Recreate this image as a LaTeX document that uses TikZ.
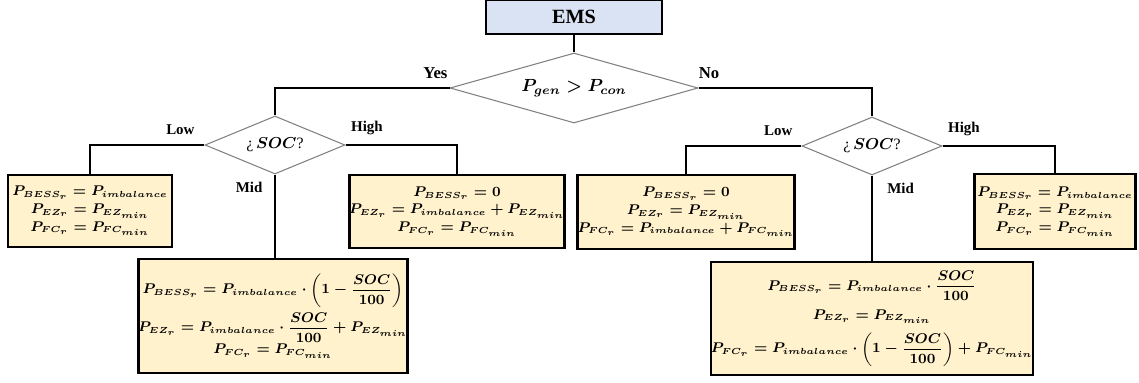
\documentclass[tikz,border=0pt]{standalone}
\usepackage{amsmath}
\usepackage{fontspec}
\setmainfont{Liberation Serif}
\usetikzlibrary{shapes.geometric,positioning}
\DeclareMathSizes{8}{8}{5}{4}

\definecolor{emsblue}{HTML}{DAE3F3}
\definecolor{resfill}{HTML}{FFF2CC}

\tikzset{
  ems/.style={draw, line width=1.2pt, fill=emsblue, minimum width=3.52cm, minimum height=0.68cm,
    font=\fontsize{11.5}{13}\selectfont\bfseries},
  decision/.style={diamond, draw=gray, line width=0.6pt, inner sep=0pt, minimum width=2.8cm,
    minimum height=1.16cm, aspect=2.4, font=\fontsize{9}{11}\selectfont\boldmath},
  result/.style={draw, line width=1.6pt, fill=resfill, align=center, inner sep=0pt,
    font=\fontsize{8}{10}\selectfont\boldmath},
  branch/.style={font=\fontsize{8.5}{10}\selectfont\bfseries, inner sep=0pt},
  link/.style={line width=1.2pt},
}

\begin{document}
\begin{tikzpicture}[x=0.02cm,y=-0.02cm]
\useasboundingbox (0,0) rectangle (1139,382);

% top of the tree
\node[ems] (ems) at (574,17) {EMS};
\node[decision, minimum width=4.96cm, minimum height=1.4cm, aspect=3.5,
  font=\fontsize{10}{12}\selectfont\boldmath] (gen) at (574,88) {$P_{gen} > P_{con}$};
\node[decision] (socL) at (275,145) {¿\,$SOC$?};
\node[decision] (socR) at (872,146) {¿\,$SOC$?};

% surplus branch
\node[result, minimum width=3.28cm, minimum height=1.44cm] (lowL) at (90,211)
  {$P_{BESS_r} = P_{imbalance}$\\ $P_{EZ_r} = P_{EZ_{min}}$\\ $P_{FC_r} = P_{FC_{min}}$};
\node[result, minimum width=4.08cm, minimum height=1.46cm] (highL) at (457,211.5)
  {$P_{BESS_r} = 0$\\ $P_{EZ_r} = P_{imbalance} + P_{EZ_{min}}$\\ $P_{FC_r} = P_{FC_{min}}$};
\node[result, minimum width=5.2cm, minimum height=2.28cm] (midL) at (273,316)
  {$P_{BESS_r} = P_{imbalance}\cdot\left(1-\dfrac{SOC}{100}\right)$\\[2pt]
   $P_{EZ_r} = P_{imbalance}\cdot\dfrac{SOC}{100} + P_{EZ_{min}}$\\
   $P_{FC_r} = P_{FC_{min}}$};

% deficit branch
\node[result, minimum width=4.32cm, minimum height=1.48cm] (lowR) at (686,212)
  {$P_{BESS_r} = 0$\\ $P_{EZ_r} = P_{EZ_{min}}$\\ $P_{FC_r} = P_{imbalance} + P_{FC_{min}}$};
\node[result, minimum width=3.22cm, minimum height=1.5cm] (highR) at (1055,211.5)
  {$P_{BESS_r} = P_{imbalance}$\\ $P_{EZ_r} = P_{EZ_{min}}$\\ $P_{FC_r} = P_{FC_{min}}$};
\node[result, minimum width=6.2cm, minimum height=2.26cm] (midR) at (872,318.5)
  {$P_{BESS_r} = P_{imbalance}\cdot\dfrac{SOC}{100}$\\[4pt]
   $P_{EZ_r} = P_{EZ_{min}}$\\[4pt]
   $P_{FC_r} = P_{imbalance}\cdot\left(1-\dfrac{SOC}{100}\right) + P_{FC_{min}}$};

% connectors
\draw[link] (ems) -- (gen);
\draw[link] (gen.west) -| (socL.north);
\draw[link] (gen.east) -| (socR.north);
\draw[link] (socL.west) -| (lowL.north);
\draw[link] (socL.east) -| (highL.north);
\draw[link] (socL.south) -- (socL.south |- midL.north);
\draw[link] (socR.west) -| (lowR.north);
\draw[link] (socR.east) -| (highR.north);
\draw[link] (socR.south) -- (midR.north);

% branch labels
\node[branch, font=\fontsize{9.5}{11}\selectfont\bfseries, above left=5pt and 1pt of gen.west] {Yes};
\node[branch, font=\fontsize{9.5}{11}\selectfont\bfseries, above right=5pt and 0pt of gen.east] {No};
\node[branch, above left=5.5pt and 5.5pt of socL.west] {Low};
\node[branch, above right=5.5pt and 3pt of socL.east] {High};
\node[branch, below left=4pt and 7pt of socL.south] {Mid};
\node[branch, above left=5.5pt and 5pt of socR.west] {Low};
\node[branch, above right=5.5pt and 3pt of socR.east] {High};
\node[branch, below right=4pt and 8.5pt of socR.south] {Mid};
\end{tikzpicture}
\end{document}
